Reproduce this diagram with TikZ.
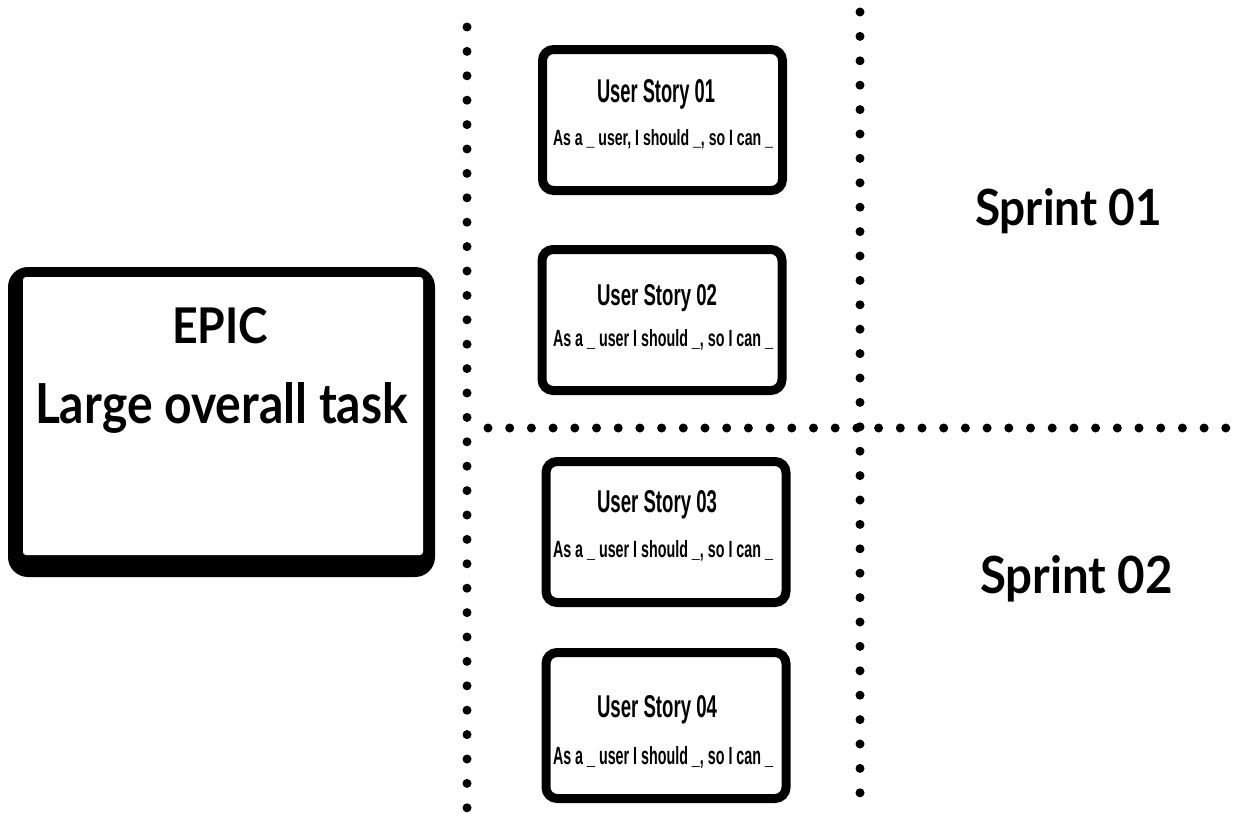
\documentclass[tikz,border=0pt]{standalone}
\usepackage{fontspec}
\usepackage{graphicx}
\setmainfont{Liberation Sans}
\newfontfamily\headfont{Lato}

% text squeezed or stretched into a box of given width and height (in pt)
\newcommand{\fitlabel}[3]{\resizebox{#1pt}{#2pt}{#3}}

\tikzset{
  dotline/.style={line width=9pt, line cap=round, dash pattern=on 0pt off #1},
  storybox/.style={draw=black, fill=white, line width=9pt, rounded corners=11pt,
                   minimum width=240pt, minimum height=141pt, inner sep=0pt},
  txt/.style={anchor=base west, inner sep=0pt, outer sep=0pt},
  title/.style={txt, font=\bfseries},
  story/.style={txt, font=\bfseries},
  head/.style={txt, font=\headfont\bfseries},
}

\begin{document}
\begin{tikzpicture}[x=1pt, y=-1pt]
  \useasboundingbox (0,0) rectangle (1235,814);
  \fill[white] (0,0) rectangle (1235,814);

  % column and row separators
  \coordinate (vla) at (467,27);
  \coordinate (vlb) at (467,814);
  \coordinate (vra) at (860,12);
  \coordinate (vrb) at (860,814);
  \coordinate (hla) at (488,428);
  \coordinate (hlb) at (1240,428);
  \draw[dotline=24.4pt] (vla) -- (vlb);
  \draw[dotline=24.4pt] (vra) -- (vrb);
  \draw[dotline=21.7pt] (hla) -- (hlb);

  % epic card: heavy frame, thicker along the bottom
  \node[fill=black, rounded corners=20pt, minimum width=427pt, minimum height=310pt,
        inner sep=0pt] (epicframe) at (221.5,422) {};
  \node[fill=white, rounded corners=3pt, minimum width=400pt, minimum height=278pt,
        inner sep=0pt] (epic) at (223,416) {};
  \node[head] (epict) at (172,343) {\fitlabel{96}{36}{EPIC}};
  \node[head] (epicd) at (35,423) {\fitlabel{373}{41}{Large overall task}};

  % user story cards
  \node[storybox] (us1) at (662.5,120) {};
  \node[title] (us1t) at (597,102) {\fitlabel{118}{23}{User Story 01}};
  \node[story] (us1d) at (553,145) {\fitlabel{220}{16}{As a \_ user, I should \_, so I can \_}};

  \node[storybox] (us2) at (662,320) {};
  \node[title] (us2t) at (597,305) {\fitlabel{120}{21}{User Story 02}};
  \node[story] (us2d) at (553,346) {\fitlabel{220}{17}{As a \_ user I should \_, so I can \_}};

  \node[storybox] (us3) at (666,532) {};
  \node[title] (us3t) at (597,512) {\fitlabel{120}{22}{User Story 03}};
  \node[story] (us3d) at (553,557) {\fitlabel{220}{17}{As a \_ user I should \_, so I can \_}};

  \node[storybox, minimum height=146pt] (us4) at (666,725.5) {};
  \node[title] (us4t) at (597,717) {\fitlabel{120}{22}{User Story 04}};
  \node[story] (us4d) at (553,764) {\fitlabel{220}{18}{As a \_ user I should \_, so I can \_}};

  % sprint labels
  \node[head] (sp1) at (975,225) {\fitlabel{187}{37}{Sprint 01}};
  \node[head] (sp2) at (980,593) {\fitlabel{193}{38}{Sprint 02}};
\end{tikzpicture}
\end{document}
